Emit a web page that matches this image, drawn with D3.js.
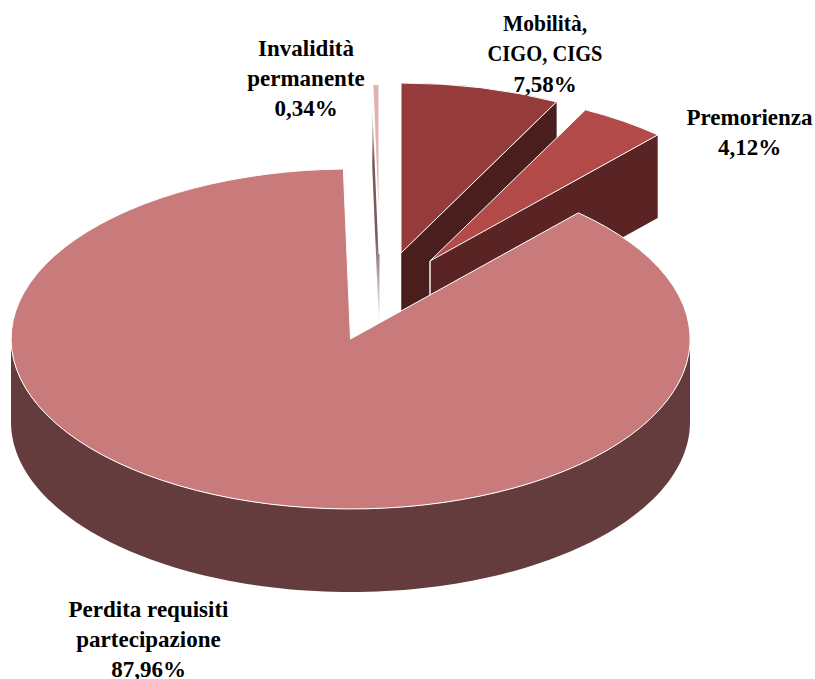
<!DOCTYPE html>
<html>
<head>
<meta charset="utf-8">
<script src="https://cdnjs.cloudflare.com/ajax/libs/d3/7.8.5/d3.min.js"></script>
<style>
    html, body { margin: 0; padding: 0; background: #fff; }
    svg { display: block; }
    text { font-family: "Liberation Serif", serif; font-weight: bold; fill: #000; }
</style>
</head>
<body>
<svg id="chart" width="815" height="679"></svg>
<script>
// values, clockwise from 12 o'clock
const categories = ["Mobilità, CIGO, CIGS", "Premorienza", "Perdita requisiti partecipazione", "Invalidità permanente"]
const values = [7.58, 4.12, 87.96, 0.34]
const valueLabels = ["7,58%", "4,12%", "87,96%", "0,34%"]

const labelLines = [
    ["Mobilità,", "CIGO, CIGS"],
    ["Premorienza"],
    ["Perdita requisiti", "partecipazione"],
    ["Invalidità", "permanente"]
]

let config = {
    cx: 350.5, cy: 339,
    rx: 339.5, ry: 170,
    depth: 83,
    fontSize: 23,
    lineHeight: 30.4,
    // capitals run wide in this font, squeeze the lines that overshoot
    fitWidth: { "CIGO, CIGS": 115, "Mobilità,": 84 },
    // one entry per category, same order
    slices: [
        { top: "#953b3b", wall: "#4a1e1c", dx: 50.5, dy: -86, edge: 0.5, rim: 1, labelX: 545, labelY: 31 },
        { top: "#b14a48", wall: "#5a2424", dx: 79.5, dy: -78, edge: 1.4, rim: 1, labelX: 749.5, labelY: 125 },
        { top: "#c97b7b", wall: "#643c3e", dx: 0, dy: 0, edge: 0, rim: 1, labelX: 148.5, labelY: 616.5 },
        { top: "#dfb3b3", wall: "url(#sliverFade)", dx: 29, dy: -85, edge: 0, rim: 2, labelX: 306, labelY: 55.5 }
    ],
    paintOrder: [0, 3, 1, 2]
}

const svg = d3.select("#chart")

// the invalidita wall is a hair seen edge-on, it fades out at both ends
const fade = svg.append("defs").append("linearGradient")
    .attr("id", "sliverFade")
    .attr("x1", 0).attr("y1", 0).attr("x2", 0).attr("y2", 1)
fade.selectAll("stop")
    .data([[0.08, 0], [0.3, 0.85], [0.6, 0.85], [0.95, 0]])
    .join("stop")
    .attr("offset", d => d[0])
    .attr("stop-color", "#643c3e")
    .attr("stop-opacity", d => d[1])

// d3 arcs on a unit circle, flattened by the group's transform
const pie = d3.pie().sort(null).value(d => d)
const arcs = pie(values)
const unitArc = d3.arc().innerRadius(0).outerRadius(1)

const px = (a, s) => s.dx + config.cx + Math.sin(a) * config.rx
const py = (a, s) => s.dy + config.cy - Math.cos(a) * config.ry

function drawCutFace(g, a, s) {
    const ax = config.cx + s.dx, ay = config.cy + s.dy
    const pts = [[ax, ay], [px(a, s), py(a, s)], [px(a, s), py(a, s) + config.depth], [ax, ay + config.depth]]
    g.append("polygon")
        .attr("points", pts.join(" "))
        .attr("fill", s.wall)
    if (s.edge > 0) {
        g.append("line")
            .attr("x1", ax).attr("y1", ay)
            .attr("x2", ax).attr("y2", ay + config.depth)
            .attr("stroke", "#fff").attr("stroke-width", s.edge)
    }
}

function drawOuterWall(g, d, s) {
    // only the front half of the rim is seen
    const from = Math.max(d.startAngle, Math.PI / 2)
    const to = Math.min(d.endAngle, 3 * Math.PI / 2)
    if (to <= from) return
    const rim = d3.range(0, 121).map(i => from + (to - from) * i / 120)
    const upper = rim.map(a => [px(a, s), py(a, s)])
    const lower = rim.slice().reverse().map(a => [px(a, s), py(a, s) + config.depth])
    g.append("path")
        .attr("d", d3.line()(upper.concat(lower)) + "Z")
        .attr("fill", s.wall)
}

config.paintOrder.forEach(i => {
    const d = arcs[i], s = config.slices[i]
    const g = svg.append("g")
    // a cut face only shows when it turns towards the viewer
    if (Math.sin(d.endAngle) > 1e-6) drawCutFace(g, d.endAngle, s)
    if (Math.sin(d.startAngle) < -1e-6) drawCutFace(g, d.startAngle, s)
    drawOuterWall(g, d, s)
    g.append("g")
        .attr("transform", `translate(${config.cx + s.dx},${config.cy + s.dy}) scale(${config.rx},${config.ry})`)
        .append("path")
        .attr("d", unitArc(d))
        .attr("fill", s.top)
        .attr("stroke", "#fff")
        .attr("stroke-width", s.rim)
        .attr("vector-effect", "non-scaling-stroke")
})

categories.forEach((c, i) => {
    const s = config.slices[i]
    const lines = labelLines[i].concat(valueLabels[i])
    const t = svg.append("text")
        .attr("text-anchor", "middle")
        .attr("font-size", config.fontSize)
    lines.forEach((line, k) => {
        const span = t.append("tspan")
            .attr("x", s.labelX)
            .attr("y", s.labelY + k * config.lineHeight)
            .text(line)
        if (config.fitWidth[line]) {
            span.attr("textLength", config.fitWidth[line]).attr("lengthAdjust", "spacingAndGlyphs")
        }
    })
})
</script>
</body>
</html>
